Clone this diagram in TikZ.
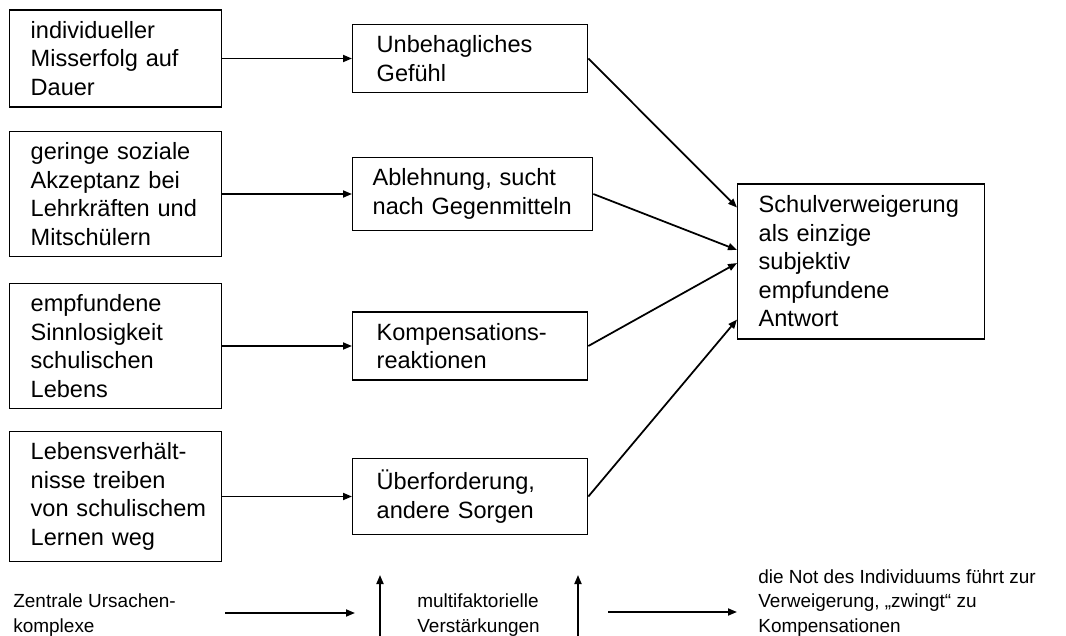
\documentclass[tikz,border=0pt]{standalone}
\usepackage{fontspec}
\setmainfont{Liberation Sans}
\usepackage{tikz}
\usetikzlibrary{arrows.meta,calc}

\begin{document}
\begin{tikzpicture}[x=0.02cm,y=-0.02cm,
    box/.style={draw,line width=0.8pt,align=left,anchor=west,inner xsep=0.42cm,inner ysep=0.225cm,font=\fontsize{13.4}{16.2}\selectfont},
    causebox/.style={box,text width=3.4cm},
    midbox/.style={box,inner xsep=0.48cm,text width=3.74cm},
    lbl/.style={align=left,anchor=west,inner sep=0pt,font=\fontsize{10.8}{14}\selectfont},
    arr/.style={line width=1pt,-{Triangle[length=0.18cm,width=0.14cm]}}]
    \useasboundingbox (0,0) rectangle (1066,636);

    % Causes
    \node[causebox] (c1) at (9,58.5) {individueller\\Misserfolg auf\\Dauer};
    \node[causebox] (c2) at (9,194) {geringe soziale\\Akzeptanz bei\\Lehrkräften und\\Mitschülern};
    \node[causebox] (c3) at (9,346) {empfundene\\Sinnlosigkeit\\schulischen\\Lebens};
    \node[causebox] (c4) at (9,496.5) {Lebensverhält-\\nisse treiben\\\mbox{von schulischem}\\Lernen weg};

    % Reactions
    \node[midbox] (m1) at (352,58.5) {Unbehagliches\\Gefühl};
    \node[midbox,inner xsep=0.4cm,text width=4cm] (m2) at (352,194) {Ablehnung, sucht\\nach Gegenmitteln};
    \node[midbox] (m3) at (352,346) {Kompensations-\\reaktionen};
    \node[midbox] (m4) at (352,496.5) {Überforderung,\\andere Sorgen};

    % Result
    \node[box,text width=4.1cm,inner ysep=0.24cm] (res) at (737,261.5) {Schulverweigerung\\als einzige\\subjektiv\\empfundene\\Antwort};

    % Arrows
    \draw[arr] (c1.east) -- (m1.west);
    \draw[arr] (c2.east) -- (m2.west);
    \draw[arr] (c3.east) -- (m3.west);
    \draw[arr] (c4.east) -- (m4.west);
    \draw[arr] (m1.east) -- ($(res.north west)!0.155!(res.south west)$);
    \draw[arr] (m2.east) -- ($(res.north west)!0.426!(res.south west)$);
    \draw[arr] (m3.east) -- ($(res.north west)!0.51!(res.south west)$);
    \draw[arr] (m4.east) -- ($(res.north west)!0.871!(res.south west)$);

    % Bottom row
    \node[lbl] (roots) at (13,615) {Zentrale Ursachen-\\komplexe};
    \node[lbl] (boost) at (417,615) {multifaktorielle\\Verstärkungen};
    \node[lbl] (need) at (758,603) {die Not des Individuums führt zur\\Verweigerung, „zwingt“ zu\\Kompensationen};
    \coordinate (r1) at (225,613); \coordinate (r2) at (355,613);
    \coordinate (r3) at (608,612); \coordinate (r4) at (737,612);
    \coordinate (u1) at (380,636); \coordinate (u1t) at (380,575);
    \coordinate (u2) at (578,636); \coordinate (u2t) at (578,575);
    \draw[arr] (r1) -- (r2);
    \draw[arr] (r3) -- (r4);
    \draw[arr] (u1) -- (u1t);
    \draw[arr] (u2) -- (u2t);
\end{tikzpicture}
\end{document}
